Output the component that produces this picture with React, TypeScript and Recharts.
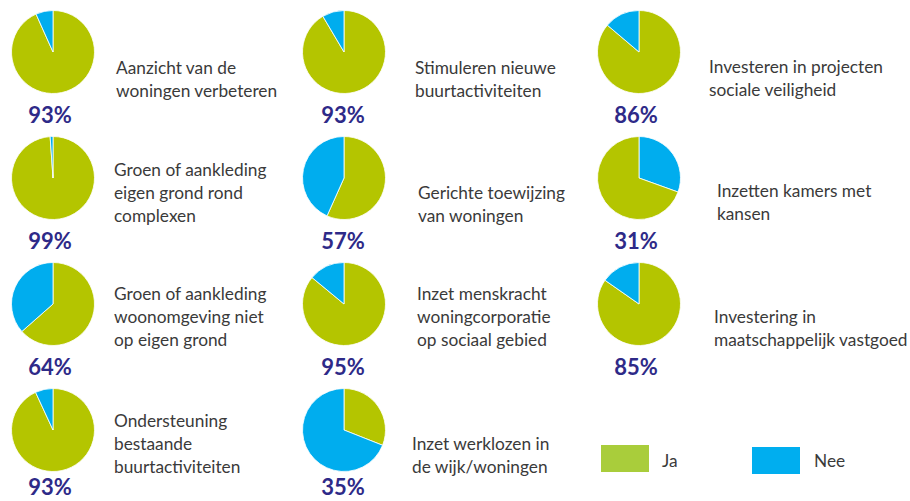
import React from 'react'
import { PieChart, Pie, Cell } from 'recharts'

// one entry per small pie, row by row
const categories: string[][] = [
  ['Aanzicht van de', 'woningen verbeteren'],
  ['Stimuleren nieuwe', 'buurtactiviteiten'],
  ['Investeren in projecten', 'sociale veiligheid'],
  ['Groen of aankleding', 'eigen grond rond', 'complexen'],
  ['Gerichte toewijzing', 'van woningen'],
  ['Inzetten kamers met', 'kansen'],
  ['Groen of aankleding', 'woonomgeving niet', 'op eigen grond'],
  ['Inzet menskracht', 'woningcorporatie', 'op sociaal gebied'],
  ['Investering in', 'maatschappelijk vastgoed'],
  ['Ondersteuning', 'bestaande', 'buurtactiviteiten'],
  ['Inzet werklozen in', 'de wijk/woningen'],
]

const jaValues = [93.3, 91.5, 86.2, 98.9, 56.7, 69.5, 63.5, 86, 84.7, 93.1, 31]
const neeValues = [6.7, 8.5, 13.8, 1.1, 43.3, 30.5, 36.5, 14, 15.3, 6.9, 69]
const neeFirst = [false, false, false, false, false, true, false, false, false, false, false]
const percentLabels = ['93%', '93%', '86%', '99%', '57%', '31%', '64%', '95%', '85%', '93%', '35%']

const legendItems = ['Ja', 'Nee']

const COLORS: Record<string, string> = {
  Ja: '#b4c500',
  Nee: '#00adee',
}
const LEGEND_COLORS: Record<string, string> = {
  Ja: '#a9cd3b',
  Nee: '#00aeef',
}

const WIDTH = 910
const HEIGHT = 501
const RADIUS = 41.5
const COL_X = [53, 344, 639]
const ROW_Y = [52, 178, 304, 430]
const LABEL_X = [50, 343, 636]
const LABEL_Y = [123, 249, 375, 495]
const LINE_H = 22.8

// text block placement per pie: left edge and first baseline
const TEXT_POS: [number, number][] = [
  [116, 74], [415, 74], [709, 73],
  [114, 176], [418, 199], [717, 197],
  [114, 300], [417, 300], [714, 323],
  [114, 427], [412, 450],
]

const TEXT_FONT = 'Lato, "Noto Sans", sans-serif'

export default function App() {
  const pies = categories.map((_, i) => {
    const ja = { name: 'Ja', value: jaValues[i] }
    const nee = { name: 'Nee', value: neeValues[i] }
    return neeFirst[i] ? [nee, ja] : [ja, nee]
  })

  return (
    <div style={{ position: 'absolute', left: 0, top: 0, width: WIDTH, height: HEIGHT, overflow: 'hidden', background: '#fff' }}>
      <PieChart width={WIDTH} height={HEIGHT} margin={{ top: 0, right: 0, bottom: 0, left: 0 }}>
        {pies.map((data, i) => (
          <Pie
            key={`pie-${i}`}
            data={data}
            dataKey="value"
            nameKey="name"
            cx={COL_X[i % 3]}
            cy={ROW_Y[Math.floor(i / 3)]}
            outerRadius={RADIUS}
            innerRadius={0}
            startAngle={90}
            endAngle={-270}
            stroke="#ffffff"
            strokeWidth={0.8}
            isAnimationActive={false}
          >
            {data.map((entry, j) => (
              <Cell key={`cell-${i}-${j}`} fill={COLORS[entry.name]} />
            ))}
          </Pie>
        ))}
      </PieChart>
      <svg width={WIDTH} height={HEIGHT} style={{ position: 'absolute', left: 0, top: 0, pointerEvents: 'none' }}>
        {categories.map((lines, i) => (
          <g key={`txt-${i}`}>
            {lines.map((line, k) => (
              <text
                key={k}
                x={TEXT_POS[i][0]}
                y={TEXT_POS[i][1] + k * LINE_H}
                fontFamily={TEXT_FONT}
                fontSize={17.3}
                fill="#3a3a3a"
              >
                {line}
              </text>
            ))}
            <text
              x={LABEL_X[i % 3]}
              y={LABEL_Y[Math.floor(i / 3)]}
              textAnchor="middle"
              fontFamily={TEXT_FONT}
              fontSize={22}
              fontWeight="bold"
              fill="#2e2a88"
            >
              {percentLabels[i]}
            </text>
          </g>
        ))}
        {/* legend */}
        {legendItems.map((name, i) => (
          <g key={name}>
            <rect x={601 + i * 151} y={445 + i * 2} width={48} height={27} fill={LEGEND_COLORS[name]} />
            <text x={662 + i * 152} y={467} fontFamily={TEXT_FONT} fontSize={17.3} fill="#3a3a3a">
              {name}
            </text>
          </g>
        ))}
      </svg>
    </div>
  )
}
